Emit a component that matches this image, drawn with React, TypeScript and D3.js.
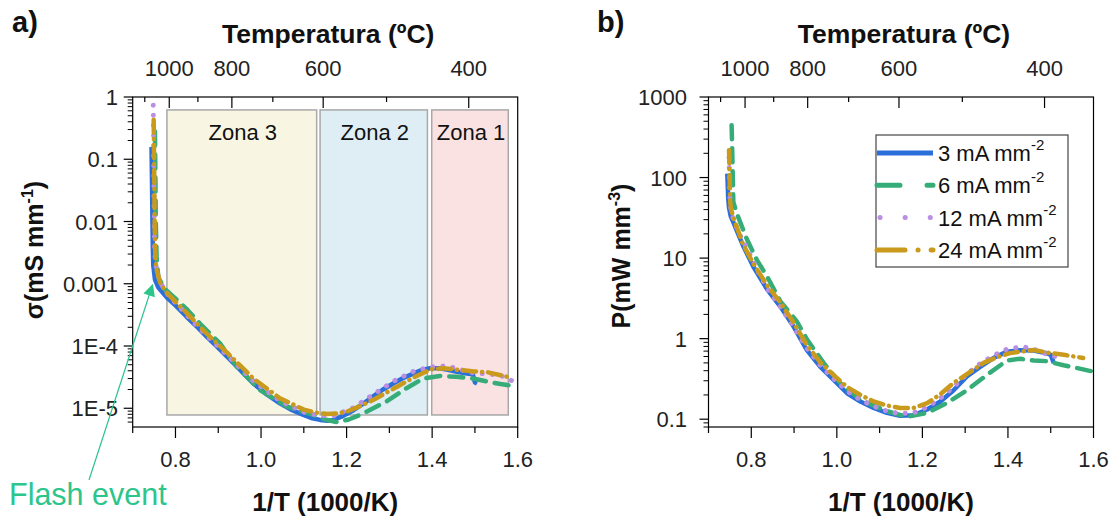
import React from "react";
import * as d3 from "d3";

const FONT = "'Liberation Sans', Arial, Helvetica, sans-serif";

// ---- axis ticks ----
const invTMajor = [0.8, 1.0, 1.2, 1.4, 1.6];
const invTMinor = [0.7, 0.9, 1.1, 1.3, 1.5];
const tempMajor = [1000, 800, 600, 400];
const tempMinor = [1100, 900, 700, 500];
const sigmaTicks = [1, 0.1, 0.01, 0.001, 1e-4, 1e-5];
const sigmaTickLabels = ["1", "0.1", "0.01", "0.001", "1E-4", "1E-5"];
const powerTicks = [1000, 100, 10, 1, 0.1];
const powerTickLabels = ["1000", "100", "10", "1", "0.1"];

// ---- legend ----
const seriesNames = ["3 mA mm", "6 mA mm", "12 mA mm", "24 mA mm"];
const seriesSup = "-2";

// ---- zones (panel a) ----
const zoneNames = ["Zona 3", "Zona 2", "Zona 1"];
const zoneStart = [0.78, 1.138, 1.399];
const zoneEnd = [1.13, 1.389, 1.578];
const zoneTop = 0.62;
const zoneBottom = 7.8e-6;

// ---- panel a: conductivity (mS/mm) vs 1/T ----
const sigmaX3 = [0.744, 0.745, 0.746, 0.747, 0.748, 0.752, 0.76, 0.77, 0.78, 0.8, 0.826, 0.85, 0.873, 0.9, 0.92, 0.95, 0.982, 1.01, 1.044, 1.07, 1.099, 1.12, 1.138, 1.155, 1.169, 1.19, 1.216, 1.24, 1.262, 1.285, 1.309, 1.33, 1.356, 1.375, 1.395, 1.415, 1.434, 1.455, 1.481, 1.495, 1.5, 1.505];
const sigma3 = [0.158, 0.05, 0.0126, 0.004, 0.002, 0.00117, 8.7e-4, 7.2e-4, 6.0e-4, 4.5e-4, 2.95e-4, 2.04e-4, 1.41e-4, 9.3e-5, 6.8e-5, 4.2e-5, 2.5e-5, 1.74e-5, 1.2e-5, 9.5e-6, 7.8e-6, 6.9e-6, 6.5e-6, 6.3e-6, 6.5e-6, 7.4e-6, 9.3e-6, 1.2e-5, 1.55e-5, 2.0e-5, 2.5e-5, 3.0e-5, 3.6e-5, 4.1e-5, 4.4e-5, 4.4e-5, 4.2e-5, 3.9e-5, 3.6e-5, 3.5e-5, 2.6e-5, 2.5e-5];

const sigmaX6 = [0.752, 0.753, 0.754, 0.756, 0.76, 0.775, 0.795, 0.825, 0.857, 0.904, 0.943, 0.998, 1.06, 1.122, 1.15, 1.177, 1.205, 1.231, 1.26, 1.294, 1.34, 1.379, 1.418, 1.457, 1.496, 1.527, 1.56, 1.598];
const sigma6 = [0.28, 0.063, 0.01, 0.0025, 0.00126, 8.3e-4, 6.2e-4, 4.0e-4, 2.3e-4, 1.1e-4, 4.7e-5, 1.95e-5, 1.07e-5, 7.8e-6, 6.6e-6, 6.0e-6, 6.6e-6, 7.8e-6, 9.8e-6, 1.29e-5, 2.1e-5, 3.0e-5, 3.3e-5, 3.2e-5, 3.0e-5, 2.7e-5, 2.45e-5, 2.25e-5];

const sigmaX12 = [0.748, 0.749, 0.75, 0.751, 0.753, 0.758, 0.77, 0.785, 0.81, 0.84, 0.873, 0.92, 0.982, 1.044, 1.099, 1.138, 1.17, 1.216, 1.262, 1.309, 1.356, 1.395, 1.434, 1.465, 1.496, 1.53, 1.559, 1.59];
const sigma12 = [0.74, 0.126, 0.0158, 0.004, 0.00224, 0.00141, 8.9e-4, 6.3e-4, 4.2e-4, 2.5e-4, 1.48e-4, 7.2e-5, 2.75e-5, 1.32e-5, 8.7e-6, 7.6e-6, 7.6e-6, 1.02e-5, 1.66e-5, 2.7e-5, 3.9e-5, 4.6e-5, 4.8e-5, 4.2e-5, 3.7e-5, 3.55e-5, 3.4e-5, 2.7e-5];

const sigmaX24 = [0.749, 0.75, 0.751, 0.752, 0.755, 0.765, 0.78, 0.826, 0.873, 0.92, 0.982, 1.044, 1.1, 1.13, 1.155, 1.18, 1.202, 1.23, 1.264, 1.29, 1.319, 1.36, 1.397, 1.425, 1.452, 1.498, 1.529, 1.576];
const sigma24 = [0.43, 0.1, 0.0158, 0.004, 0.00178, 0.001, 7.1e-4, 3.4e-4, 1.58e-4, 7.9e-5, 3.0e-5, 1.45e-5, 9.5e-6, 8.5e-6, 8.1e-6, 8.3e-6, 8.9e-6, 1.07e-5, 1.38e-5, 1.74e-5, 2.24e-5, 3.2e-5, 4.2e-5, 4.4e-5, 4.2e-5, 3.9e-5, 3.8e-5, 3.2e-5];

// ---- panel b: power density (mW/mm3) vs 1/T ----
const powerX3 = [0.744, 0.745, 0.746, 0.748, 0.752, 0.758, 0.77, 0.782, 0.805, 0.837, 0.868, 0.899, 0.93, 0.961, 0.992, 1.024, 1.055, 1.086, 1.117, 1.148, 1.179, 1.211, 1.242, 1.273, 1.304, 1.335, 1.366, 1.398, 1.429, 1.46, 1.491, 1.5, 1.507];
const power3 = [112, 79, 56, 42, 33, 28, 19.5, 13.8, 7.8, 4.1, 2.5, 1.41, 0.72, 0.45, 0.31, 0.21, 0.166, 0.138, 0.12, 0.11, 0.112, 0.132, 0.166, 0.229, 0.339, 0.447, 0.575, 0.69, 0.72, 0.71, 0.66, 0.63, 0.5];

const powerX6 = [0.754, 0.755, 0.756, 0.757, 0.758, 0.766, 0.79, 0.813, 0.837, 0.868, 0.907, 0.93, 0.969, 1.008, 1.055, 1.117, 1.164, 1.211, 1.257, 1.304, 1.351, 1.398, 1.429, 1.46, 1.491, 1.53, 1.565, 1.6];
const power6 = [447, 282, 158, 89, 50, 36, 17, 9.5, 5.9, 2.9, 1.62, 0.98, 0.5, 0.28, 0.174, 0.126, 0.107, 0.12, 0.158, 0.229, 0.355, 0.537, 0.562, 0.537, 0.525, 0.468, 0.427, 0.389];

const powerX12 = [0.748, 0.749, 0.75, 0.752, 0.756, 0.77, 0.79, 0.815, 0.84, 0.87, 0.9, 0.93, 0.961, 0.992, 1.024, 1.055, 1.086, 1.117, 1.148, 1.179, 1.211, 1.242, 1.273, 1.304, 1.335, 1.366, 1.398, 1.436, 1.465, 1.495, 1.53];
const power12 = [178, 100, 56, 40, 33, 21, 13.2, 6.9, 4.0, 2.4, 1.38, 0.76, 0.47, 0.32, 0.224, 0.174, 0.145, 0.126, 0.117, 0.12, 0.141, 0.182, 0.251, 0.363, 0.49, 0.617, 0.741, 0.794, 0.724, 0.631, 0.562];

const powerX24 = [0.748, 0.749, 0.75, 0.751, 0.753, 0.758, 0.78, 0.805, 0.837, 0.868, 0.899, 0.93, 0.961, 0.992, 1.024, 1.055, 1.086, 1.117, 1.148, 1.179, 1.211, 1.242, 1.273, 1.31, 1.343, 1.375, 1.405, 1.46, 1.5, 1.53, 1.576];
const power24 = [219, 126, 71, 48, 40, 32, 15.1, 8.5, 4.6, 2.8, 1.58, 0.83, 0.51, 0.355, 0.251, 0.2, 0.166, 0.148, 0.138, 0.138, 0.158, 0.204, 0.282, 0.38, 0.5, 0.589, 0.661, 0.724, 0.661, 0.631, 0.575];

// ---- styles ----
const colors = ["#2b6fdb", "#36ad79", "#b98ee3", "#c99a1c"];
const curveDash = ["", "14,9", "0.1,10", "13,6,0.1,6"];
const legendDash = ["", "23,27", "0.1,25", "28,13,0.1,13"];
const flashColor = "#2cc58c";

type Pt = [number, number];
const zip = (xs: number[], ys: number[]): Pt[] => xs.map((x, i) => [x, ys[i]] as Pt);

const sigmaSeries: Pt[][] = [zip(sigmaX3, sigma3), zip(sigmaX6, sigma6), zip(sigmaX12, sigma12), zip(sigmaX24, sigma24)];
const powerSeries: Pt[][] = [zip(powerX3, power3), zip(powerX6, power6), zip(powerX12, power12), zip(powerX24, power24)];

const TOP = 97;
const BOTTOM = 427;

function logMinor(domain: [number, number]) {
  const out: number[] = [];
  const lo = Math.floor(Math.log10(domain[0]));
  const hi = Math.ceil(Math.log10(domain[1]));
  for (let e = lo; e <= hi; e++) {
    for (let m = 2; m <= 9; m++) {
      const v = m * Math.pow(10, e);
      if (v >= domain[0] && v <= domain[1]) out.push(v);
    }
  }
  return out;
}

function Panel(props: {
  left: number;
  right: number;
  yDomain: [number, number];
  yTicks: number[];
  yTickLabels: string[];
  yLabelX: number;
  series: Pt[][];
  yTitle: string;
  yTitleSup: string;
  yTitleX: number;
  yTitleY: number;
  letter: string;
  letterX: number;
  children?: (x: d3.ScaleLinear<number, number>, y: d3.ScaleLogarithmic<number, number>) => React.ReactNode;
  under?: (x: d3.ScaleLinear<number, number>, y: d3.ScaleLogarithmic<number, number>) => React.ReactNode;
}) {
  const { left, right } = props;
  const x = d3.scaleLinear().domain([0.7, 1.6]).range([left, right]);
  const y = d3.scaleLog().domain(props.yDomain).range([BOTTOM, TOP]);
  const line = d3
    .line<Pt>()
    .x((d) => x(d[0]))
    .y((d) => y(d[1]));
  const invT = (c: number) => 1000 / (c + 273.15);
  const cx = (left + right) / 2;
  return (
    <g>
      {props.under && props.under(x, y)}
      {props.series.map((s, i) => (
        <path
          key={i}
          d={line(s) || ""}
          fill="none"
          stroke={colors[i]}
          strokeWidth={i === 2 ? 5 : 4.5}
          strokeDasharray={curveDash[i] || undefined}
          strokeLinecap={i === 0 ? "butt" : "round"}
          strokeLinejoin="round"
        />
      ))}
      {props.children && props.children(x, y)}
      {/* frame */}
      <rect x={left} y={TOP} width={right - left} height={BOTTOM - TOP} fill="none" stroke="#000" strokeWidth={1.2} />
      {/* bottom ticks */}
      {invTMajor.map((v) => (
        <g key={"bm" + v}>
          <line x1={x(v)} x2={x(v)} y1={BOTTOM} y2={BOTTOM + 11} stroke="#000" strokeWidth={1.2} />
          <text x={x(v)} y={BOTTOM + 40} textAnchor="middle" fontSize={22} fontFamily={FONT} fill="#222">
            {v.toFixed(1)}
          </text>
        </g>
      ))}
      {invTMinor.map((v) => (
        <line key={"bn" + v} x1={x(v)} x2={x(v)} y1={BOTTOM} y2={BOTTOM + 6} stroke="#000" strokeWidth={1.2} />
      ))}
      {/* top temperature ticks (inward) */}
      {tempMajor.map((c) => (
        <g key={"tm" + c}>
          <line x1={x(invT(c))} x2={x(invT(c))} y1={TOP} y2={TOP + 11} stroke="#000" strokeWidth={1.2} />
          <text x={x(invT(c))} y={TOP - 21} textAnchor="middle" fontSize={22} fontFamily={FONT} fill="#222">
            {c}
          </text>
        </g>
      ))}
      {tempMinor.map((c) => (
        <line key={"tn" + c} x1={x(invT(c))} x2={x(invT(c))} y1={TOP} y2={TOP + 5} stroke="#000" strokeWidth={1.2} />
      ))}
      {/* left log ticks */}
      {props.yTicks.map((v, i) => (
        <g key={"ym" + v}>
          <line x1={left - 9} x2={left} y1={y(v)} y2={y(v)} stroke="#000" strokeWidth={1.2} />
          <text x={props.yLabelX} y={y(v) + 8} textAnchor="end" fontSize={22} fontFamily={FONT} fill="#222">
            {props.yTickLabels[i]}
          </text>
        </g>
      ))}
      {logMinor(props.yDomain).map((v) => (
        <line key={"yn" + v} x1={left - 5} x2={left} y1={y(v)} y2={y(v)} stroke="#000" strokeWidth={1} />
      ))}
      {/* titles */}
      <text x={cx + 3} y={43} textAnchor="middle" fontSize={26.5} fontWeight="bold" fontFamily={FONT} fill="#111">
        Temperatura (ºC)
      </text>
      <text x={cx} y={511} textAnchor="middle" fontSize={26} fontWeight="bold" fontFamily={FONT} fill="#111">
        1/T (1000/K)
      </text>
      <text
        transform={`translate(${props.yTitleX},${props.yTitleY}) rotate(-90)`}
        textAnchor="middle"
        fontSize={25}
        fontWeight="bold"
        fontFamily={FONT}
        fill="#111"
      >
        {props.yTitle}
        <tspan fontSize={16} dy={-10}>
          {props.yTitleSup}
        </tspan>
        <tspan dy={10}>)</tspan>
      </text>
      <text x={props.letterX} y={32} fontSize={29} fontWeight="bold" fontFamily={FONT} fill="#111">
        {props.letter}
      </text>
    </g>
  );
}

export default function App() {
  const zoneFills = ["#f8f6e2", "#deeef4", "#fbe2e2"];
  return (
    <svg
      width={1112}
      height={517}
      viewBox="0 0 1112 517"
      style={{ position: "absolute", left: 0, top: 0, background: "#fff" }}
    >
      <rect x={0} y={0} width={1112} height={517} fill="#fff" />
      <defs>
        <marker id="flashHead" viewBox="0 0 10 10" refX={9} refY={5} markerWidth={14} markerHeight={12} markerUnits="userSpaceOnUse" orient="auto">
          <path d="M0,0 L10,5 L0,10 z" fill={flashColor} />
        </marker>
      </defs>
      <Panel
        left={132.7}
        right={517.7}
        yDomain={[5e-6, 1]}
        yTicks={sigmaTicks}
        yTickLabels={sigmaTickLabels}
        yLabelX={118}
        series={sigmaSeries}
        yTitle="σ(mS mm"
        yTitleSup="-1"
        yTitleX={43}
        yTitleY={250}
        letter="a)"
        letterX={12}
        under={(x, y) => (
          <g>
            {zoneNames.map((n, i) => (
              <g key={n}>
                <rect
                  x={x(zoneStart[i])}
                  y={y(zoneTop)}
                  width={x(zoneEnd[i]) - x(zoneStart[i])}
                  height={y(zoneBottom) - y(zoneTop)}
                  fill={zoneFills[i]}
                  stroke="#a8a8a8"
                  strokeWidth={1.5}
                />
                <text
                  x={(x(zoneStart[i]) + x(zoneEnd[i])) / 2 + 1}
                  y={y(zoneTop) + 30}
                  textAnchor="middle"
                  fontSize={22}
                  fontFamily={FONT}
                  fill="#111"
                >
                  {n}
                </text>
              </g>
            ))}
          </g>
        )}
      />
      <Panel
        left={708.5}
        right={1093.5}
        yDomain={[0.08, 1000]}
        yTicks={powerTicks}
        yTickLabels={powerTickLabels}
        yLabelX={687}
        series={powerSeries}
        yTitle="P(mW mm"
        yTitleSup="-3"
        yTitleX={630}
        yTitleY={256}
        letter="b)"
        letterX={597}
      >
        {() => (
          <g>
            <rect x={876} y={135} width={192} height={132} fill="#fff" stroke="#444" strokeWidth={1.2} />
            {seriesNames.map((n, i) => {
              const ry = 153 + i * 32.3;
              return (
                <g key={n}>
                  <line
                    x1={i === 2 ? 880 : 877}
                    x2={933}
                    y1={ry}
                    y2={ry}
                    stroke={colors[i]}
                    strokeWidth={5}
                    strokeDasharray={legendDash[i] || undefined}
                    strokeLinecap={i === 0 ? "butt" : "round"}
                  />
                  <text x={938} y={ry + 8} fontSize={22} fontFamily={FONT} fill="#111">
                    {n}
                    <tspan fontSize={15} dy={-11}>
                      {seriesSup}
                    </tspan>
                  </text>
                </g>
              );
            })}
          </g>
        )}
      </Panel>
      {/* Flash event annotation */}
      <line x1={89} y1={480} x2={152.5} y2={285} stroke={flashColor} strokeWidth={1.2} markerEnd="url(#flashHead)" />
      <text x={9} y={505} fontSize={30.5} fontFamily={FONT} fill={flashColor}>
        Flash event
      </text>
    </svg>
  );
}
